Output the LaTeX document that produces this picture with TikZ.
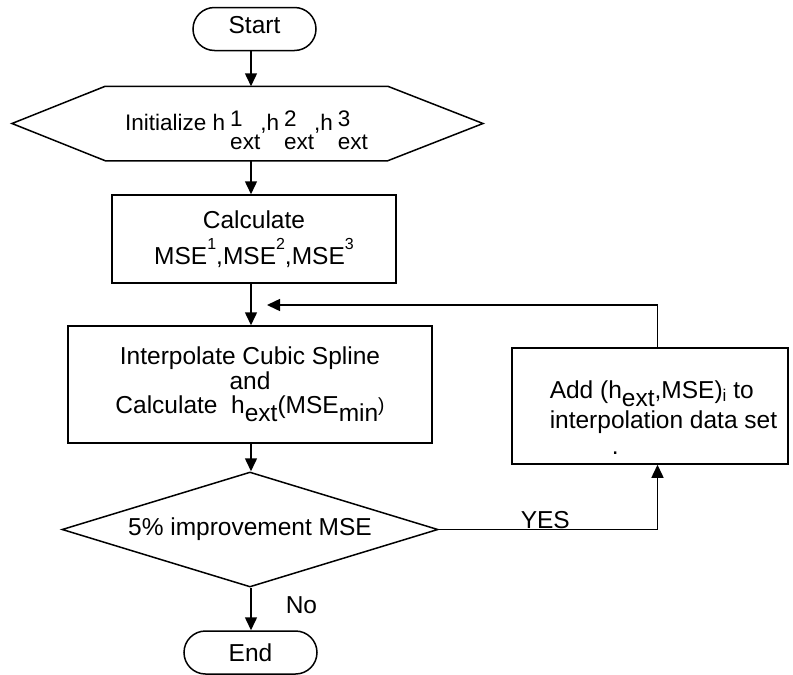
\documentclass[tikz,border=0pt]{standalone}
\usepackage{fontspec}
\setmainfont{Liberation Sans}
\usetikzlibrary{arrows.meta,shapes.geometric}
\newcommand\supd[1]{\raisebox{15pt}{\fontsize{16}{16}\selectfont #1}}
\newcommand\subd[1]{\raisebox{-8pt}{#1}}
\newcommand\subi{\raisebox{-3pt}{\fontsize{17}{17}\selectfont i}}
\newcommand\hext[1]{h\kern5pt\rlap{\raisebox{4pt}{#1}}\raisebox{-19pt}{ext}}
\begin{document}
\begin{tikzpicture}[x=1pt,y=-1pt,line width=1.5pt,
  every node/.style={font=\fontsize{24.5}{26}\selectfont, inner sep=0pt},
  term/.style={draw, rectangle, rounded corners=21.5pt, minimum height=43pt},
  proc/.style={draw, rectangle, align=center},
  arr/.style={-{Triangle[width=12pt,length=13pt]}}]
\useasboundingbox (0,0) rectangle (793,675);
\coordinate (col) at (251,0);
\coordinate (xloop) at (657.5,0);
\coordinate (loopend) at (267,305);
% nodes
\node[term, minimum width=123pt, text depth=9pt] (start) at (254.5,29) {Start};
\node[minimum width=281pt, minimum height=73pt, text height=20pt, text depth=6pt,
  font=\fontsize{22.5}{24}\selectfont] (hex) at (246.5,123.5)
  {Initialize \hext{1},\hext{2},\hext{3}};
\draw (hex.north west) -- (hex.north east) -- (483,123.5) -- (hex.south east) -- (hex.south west) -- (12,123.5) -- cycle;
\node[proc, minimum width=284pt, minimum height=88pt] (calc) at (254,239)
  {Calculate\\[9pt]MSE\supd{1},MSE\supd{2},MSE\supd{3}};
\node[proc, minimum width=364pt, minimum height=117pt, font=\fontsize{24.5}{24.5}\selectfont] (interp) at (250,384.5)
  {Interpolate Cubic Spline\\and\\Calculate\ \ h\subd{ext}(MSE\subd{min}\raisebox{2pt}{\fontsize{19}{19}\selectfont )}};
\node[draw, diamond, aspect=3.27, minimum width=376pt, minimum height=115pt] (dec) at (250,529.5)
  {5\% improvement MSE};
\node[term, minimum width=133pt] (end) at (250.5,652.5) {End};
\node[draw, rectangle, minimum width=276pt, minimum height=116pt] (add) at (650,406) {};
\node[anchor=north west, align=left] (addtxt) at (549,380)
  {Add (h\subd{ext},MSE)\subi{} to\\[4pt]interpolation data set\\[0pt]\hspace*{62pt}.};
\node[anchor=base west] (yes) at (520,528) {YES};
\node[anchor=base west] (no) at (285,613) {No};
% connectors
\draw[arr] (start.south -| col) -- (hex.north -| col);
\draw[arr] (hex.south -| col) -- (calc.north -| col);
\draw[arr] (calc.south -| col) -- (interp.north -| col);
\draw[arr] (interp.south -| col) -- (dec.north -| col);
\draw[arr] (dec.south -| col) -- (end.north -| col);
\draw[arr] (dec.east) -| (add.south -| xloop);
\draw[arr] (add.north -| xloop) |- (loopend);
\end{tikzpicture}
\end{document}
